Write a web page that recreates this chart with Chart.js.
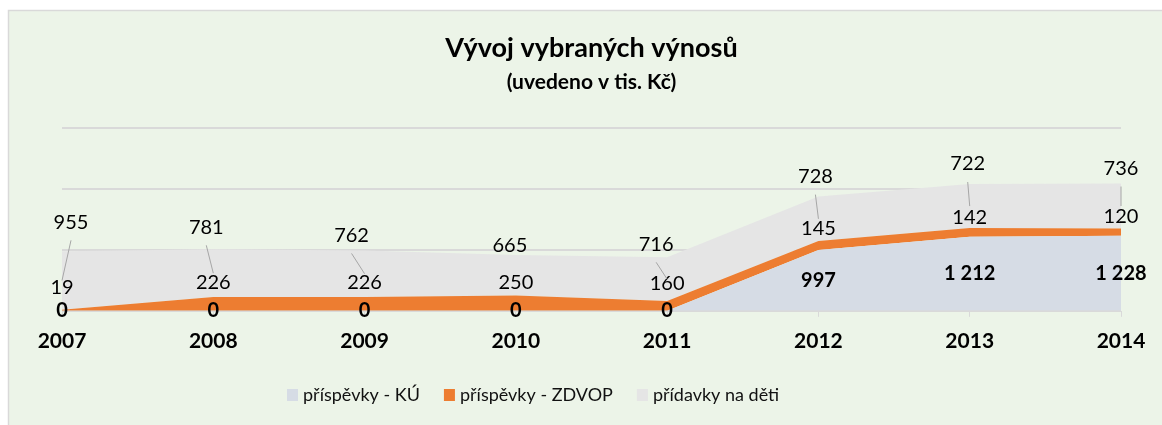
<!DOCTYPE html>
<html>
<head>
<meta charset="utf-8">
<script src="https://cdn.jsdelivr.net/npm/chart.js@4.4.1/dist/chart.umd.min.js"></script>
<style>
  html, body { margin: 0; padding: 0; background: #fff; }
  #wrap { width: 1162px; height: 425px; }
</style>
</head>
<body>
<div id="wrap"><canvas id="vynosyChart" width="1162" height="425"></canvas></div>
<script>
// data vyčtená z grafu (v tis. Kč)
const roky = ["2007", "2008", "2009", "2010", "2011", "2012", "2013", "2014"];
const prispevkyKU = [0, 0, 0, 0, 0, 997, 1212, 1228];
const prispevkyZDVOP = [19, 226, 226, 250, 160, 145, 142, 120];
const pridavkyNaDeti = [955, 781, 762, 665, 716, 728, 722, 736];

const nazvySerii = ["příspěvky - KÚ", "příspěvky - ZDVOP", "přídavky na děti"];
const barvySerii = ["#D6DCE5", "#ED7D31", "#E5E5E5"];

// posuny popisků (ručně posunuté jako v Excelu), px
const posunZDVOP = [-22, -14, -14, -13, -17, -13, -11, -12];
const posunPridavky = [[9, -29], [-7, -22], [-13, -15], [-6, -9], [-11, -13], [-3, -20], [-2, -20], [0, -15]];
const vodiciCary = [true, true, true, false, true, true, true, true];

const FONT = "Lato, 'Open Sans', sans-serif";

function formatCislo(v) {
  return String(v).replace(/\B(?=(\d{3})+(?!\d))/g, " ");
}

// pozadí grafu (zelený rámeček)
const pozadiPlugin = {
  id: "pozadi",
  beforeDraw(chart) {
    const ctx = chart.ctx;
    ctx.save();
    ctx.fillStyle = "#ffffff";
    ctx.fillRect(0, 0, chart.width, chart.height);
    ctx.fillStyle = "#ECF4E8";
    ctx.fillRect(8, 10, chart.width - 8, chart.height - 10);
    ctx.strokeStyle = "#D9D9D9";
    ctx.lineWidth = 1.5;
    ctx.beginPath();
    ctx.moveTo(8.5, chart.height);
    ctx.lineTo(8.5, 10.5);
    ctx.lineTo(chart.width, 10.5);
    ctx.stroke();
    ctx.restore();
  },
};

// popisky hodnot
const popiskyPlugin = {
  id: "popisky",
  afterDatasetsDraw(chart) {
    const ctx = chart.ctx;
    const y = chart.scales.y;
    const x = chart.scales.x;
    ctx.save();
    ctx.textAlign = "center";
    ctx.textBaseline = "middle";
    ctx.fillStyle = "#000";

    for (let i = 0; i < roky.length; i++) {
      const px = x.getPixelForValue(i);
      const ku = prispevkyKU[i];
      const z = prispevkyZDVOP[i];
      const p = pridavkyNaDeti[i];

      // příspěvky - KÚ: uprostřed plochy, tučně
      ctx.font = "bold 20px " + FONT;
      ctx.fillText(formatCislo(ku), px, y.getPixelForValue(ku / 2));

      // příspěvky - ZDVOP: nad horní hranou
      ctx.font = "20px " + FONT;
      const zTop = y.getPixelForValue(ku + z);
      ctx.fillText(formatCislo(z), px, zTop + posunZDVOP[i]);

      // přídavky na děti: nad horní hranou, s vodicí čarou
      const pTop = y.getPixelForValue(ku + z + p);
      const lx = px + posunPridavky[i][0];
      const ly = pTop + posunPridavky[i][1];
      if (vodiciCary[i]) {
        const mid = y.getPixelForValue(ku + z + p / 2);
        ctx.strokeStyle = "#A6A6A6";
        ctx.lineWidth = 1;
        ctx.beginPath();
        ctx.moveTo(lx, ly + 18);
        ctx.lineTo(px, mid);
        ctx.stroke();
      }
      ctx.fillText(formatCislo(p), lx, ly);
    }
    ctx.restore();
  },
};

// legenda (ručně umístěná jako v originále)
const legendaPlugin = {
  id: "legenda",
  afterDraw(chart) {
    const ctx = chart.ctx;
    ctx.save();
    ctx.font = "18px " + FONT;
    ctx.textBaseline = "middle";
    ctx.textAlign = "left";
    let lx = 287;
    const ly = 395;
    for (let i = 0; i < nazvySerii.length; i++) {
      ctx.fillStyle = barvySerii[i];
      ctx.fillRect(lx, ly - 6, 11, 12);
      ctx.fillStyle = "#111";
      ctx.fillText(nazvySerii[i], lx + 16, ly);
      lx += 16 + ctx.measureText(nazvySerii[i]).width + 24;
    }
    ctx.restore();
  },
};

function initChart() {
  new Chart(document.getElementById("vynosyChart").getContext("2d"), {
    type: "line",
    data: {
      labels: roky,
      datasets: [
        {
          label: nazvySerii[0],
          data: prispevkyKU,
          backgroundColor: barvySerii[0],
          borderWidth: 0,
          fill: "origin",
        },
        {
          label: nazvySerii[1],
          data: prispevkyZDVOP,
          backgroundColor: barvySerii[1],
          borderWidth: 0,
          fill: "-1",
        },
        {
          label: nazvySerii[2],
          data: pridavkyNaDeti,
          backgroundColor: barvySerii[2],
          borderWidth: 0,
          fill: "-1",
        },
      ],
    },
    options: {
      responsive: false,
      animation: false,
      elements: { point: { radius: 0 }, line: { tension: 0 } },
      layout: { padding: { left: 62, right: 41, top: 0, bottom: 59 } },
      plugins: {
        legend: { display: false },
        tooltip: { enabled: false },
        title: {
          display: true,
          text: "Vývoj vybraných výnosů",
          color: "#000",
          font: { family: FONT, size: 27, weight: "bold" },
          padding: { top: 32, bottom: 3 },
        },
        subtitle: {
          display: true,
          text: "(uvedeno v tis. Kč)",
          color: "#000",
          font: { family: FONT, size: 21, weight: "bold" },
          padding: { top: 2, bottom: 33 },
        },
      },
      scales: {
        x: {
          offset: false,
          grid: {
            display: true,
            drawOnChartArea: false,
            drawTicks: true,
            tickLength: 6,
            color: "#D9D9D9",
          },
          border: { display: false },
          ticks: {
            color: "#000",
            padding: 12,
            font: { family: FONT, size: 21, weight: "bold" },
          },
        },
        y: {
          stacked: true,
          min: 0,
          max: 3000,
          ticks: { display: false, stepSize: 1000 },
          grid: { color: "#D9D9D9", lineWidth: 2, drawTicks: false },
          border: { display: false },
        },
      },
    },
    plugins: [pozadiPlugin, popiskyPlugin, legendaPlugin],
  });
}

initChart();
</script>
</body>
</html>
